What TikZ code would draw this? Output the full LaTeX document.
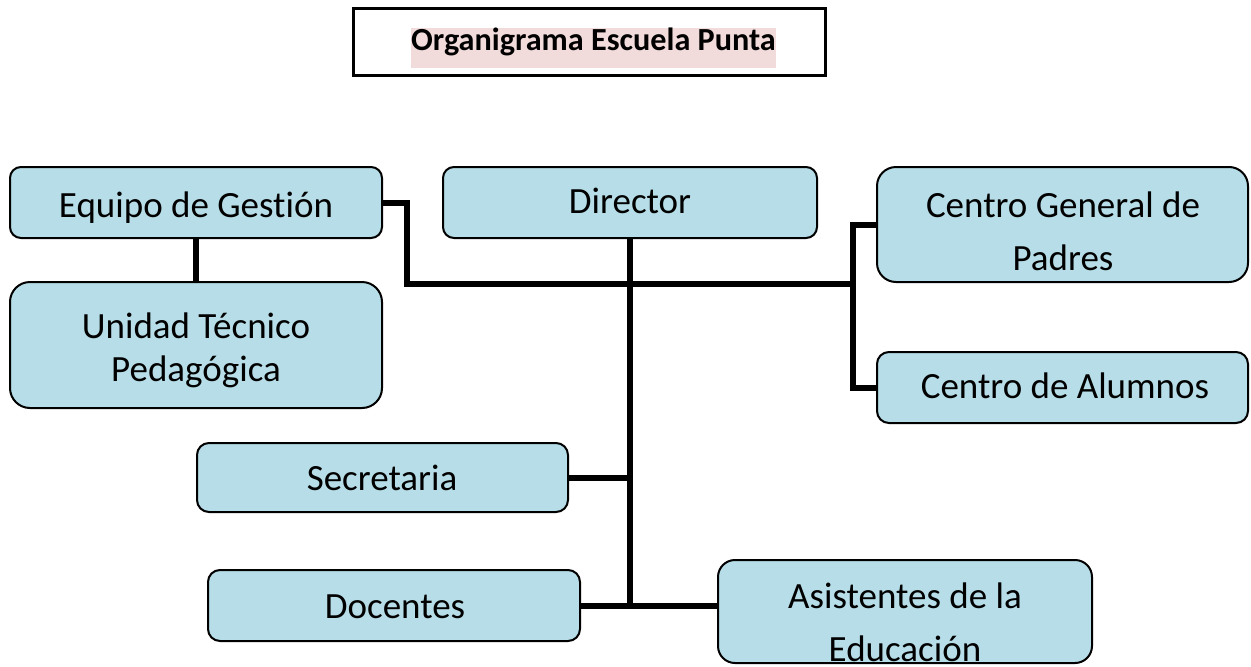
\documentclass[tikz,border=0pt]{standalone}
\usepackage{fontspec}
\setmainfont{Carlito}[Ligatures=NoCommon]
\definecolor{boxfill}{RGB}{183,222,232}
\definecolor{hilite}{RGB}{242,219,219}
\begin{document}
\begin{tikzpicture}[x=1pt,y=-1pt,
  orgbox/.style={draw=black, line width=2pt, fill=boxfill, inner sep=0pt, outer sep=0pt},
  lbl/.style={inner sep=0pt, anchor=base, font=\fontsize{37}{45}\selectfont},
  conn/.style={line width=6pt, line join=miter}]
\useasboundingbox (0,0) rectangle (1251,667);
% title
\node[draw=black, line width=3pt, minimum width=472pt, minimum height=67pt, inner sep=0pt] (title) at (589,41.5) {};
\fill[hilite] (411,28) rectangle (776,68);
\node[inner sep=0pt, anchor=base, font=\fontsize{32.2}{38}\selectfont\bfseries] (titletxt) at (593.5,50) {Organigrama Escuela Punta};
% boxes
\node[orgbox, rounded corners=11pt, minimum width=372pt, minimum height=71pt] (eq) at (196,202.5) {};
\node[orgbox, rounded corners=20pt, minimum width=372pt, minimum height=126pt] (utp) at (196,345) {};
\node[orgbox, rounded corners=11pt, minimum width=374pt, minimum height=71pt] (dir) at (630,202.5) {};
\node[orgbox, rounded corners=19pt, minimum width=371pt, minimum height=115pt] (cgp) at (1062.5,224.5) {};
\node[orgbox, rounded corners=12pt, minimum width=371pt, minimum height=71pt] (cda) at (1062.5,387.5) {};
\node[orgbox, rounded corners=12pt, minimum width=371pt, minimum height=69pt] (sec) at (382.5,477.5) {};
\node[orgbox, rounded corners=12pt, minimum width=372pt, minimum height=71pt] (doc) at (394,605.5) {};
\node[orgbox, rounded corners=17pt, minimum width=374pt, minimum height=103pt] (asi) at (905,611.5) {};
% texts
\node[lbl] (t-eq) at (196,217) {Equipo de Gestión};
\node[lbl] (t-utp1) at (196,338) {Unidad Técnico};
\node[lbl] (t-utp2) at (196,381) {Pedagógica};
\node[lbl] (t-dir) at (630,213) {Director};
\node[lbl] (t-cgp1) at (1063,217) {Centro General de};
\node[lbl] (t-cgp2) at (1063,270) {Padres};
\node[lbl] (t-cda) at (1065,398) {Centro de Alumnos};
\node[lbl] (t-sec) at (382,490) {Secretaria};
\node[lbl] (t-doc) at (395,618) {Docentes};
\node[lbl] (t-asi1) at (905,608) {Asistentes de la};
\node[lbl] (t-asi2) at (905,661) {Educación};
% connectors
\coordinate (jl) at (407,284);
\coordinate (jr) at (853,284);
\draw[conn] (eq.east) -| (jl) -- (jr);
\draw[conn] (eq.south) -- (utp.north);
\draw[conn] (dir.south) -- (dir.south |- doc.east);
\draw[conn] (cgp.west) -| (jr) |- (cda.west);
\draw[conn] (sec.east) -- (sec.east -| dir.south);
\draw[conn] (doc.east) -- (doc.east -| asi.west);
\end{tikzpicture}
\end{document}
